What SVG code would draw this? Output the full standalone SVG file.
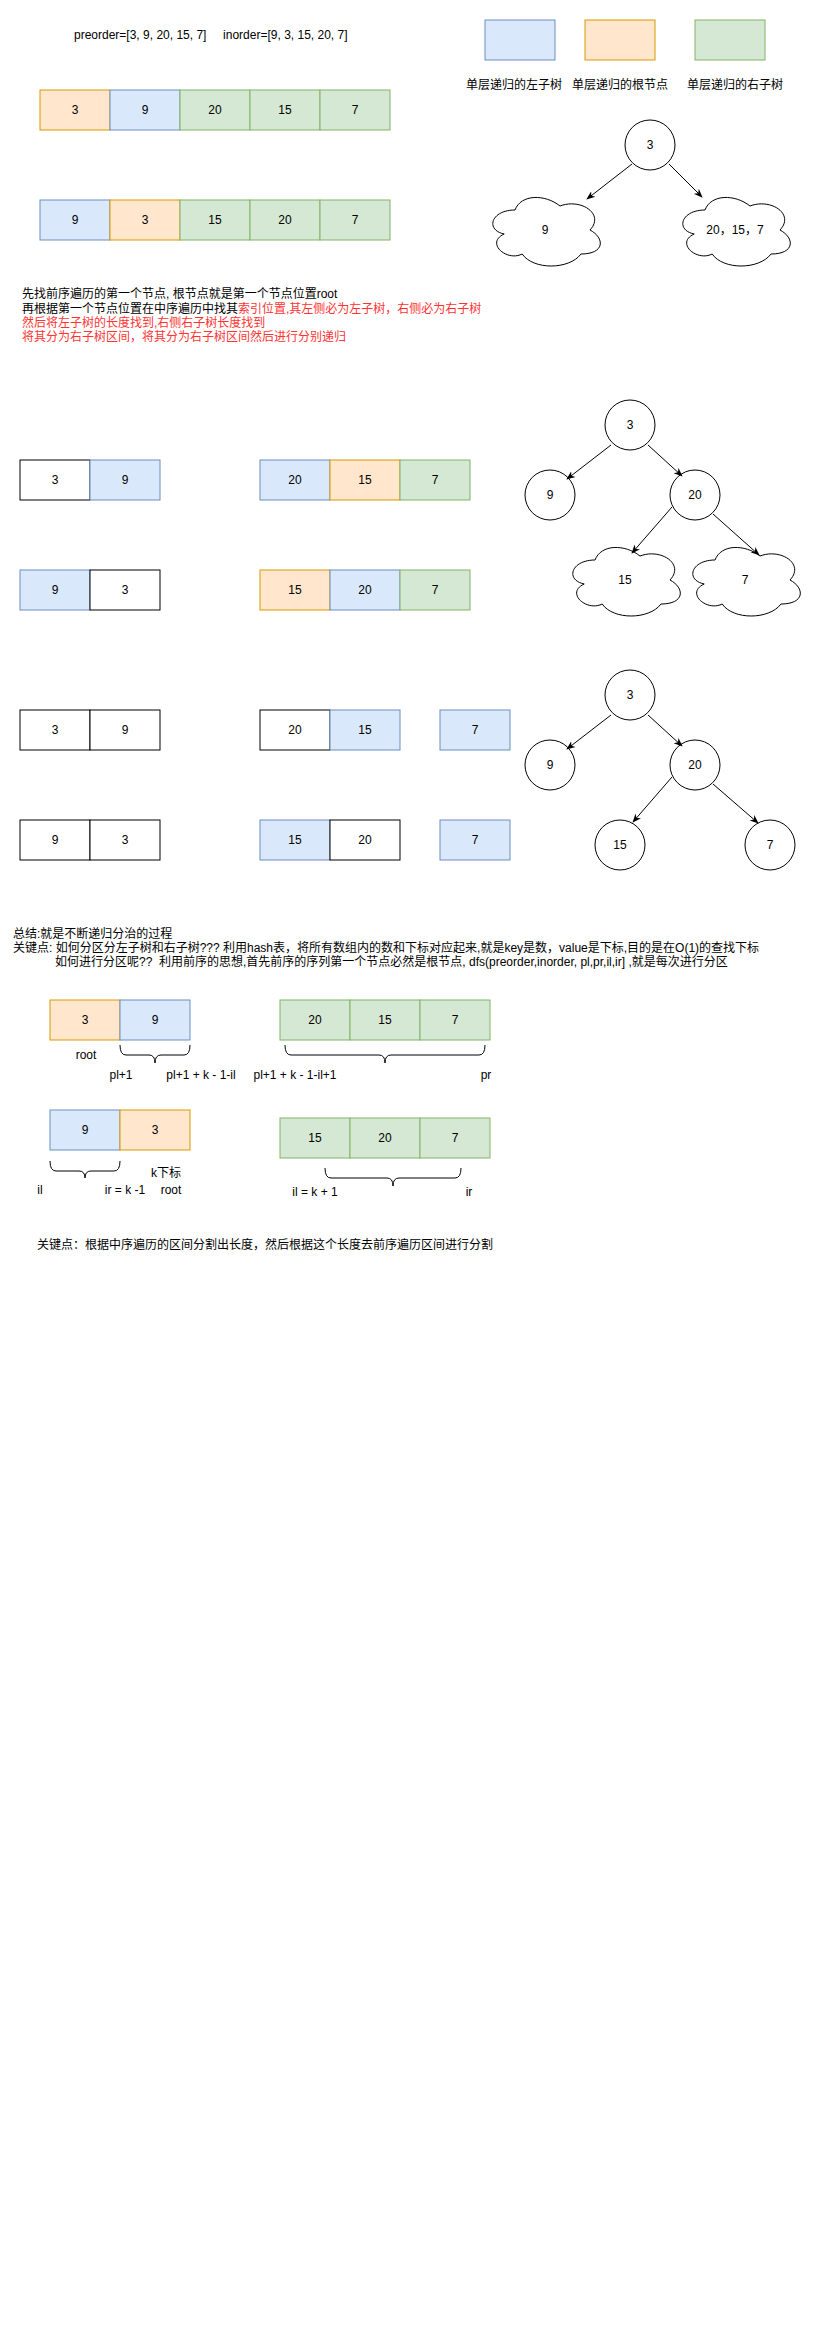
<svg xmlns="http://www.w3.org/2000/svg" width="827" height="2338" viewBox="0 0 827 2338">
<style>
text{font-family:"Liberation Sans","Noto Sans CJK SC",sans-serif;font-size:12px;fill:#000}
.c{text-anchor:middle}
.red{fill:#ff3333}
.b{fill:#dae8fc;stroke:#6c8ebf;stroke-width:1}
.o{fill:#ffe6cc;stroke:#d79b00;stroke-width:1}
.g{fill:#d5e8d4;stroke:#82b366;stroke-width:1}
.w{fill:#ffffff;stroke:#000000;stroke-width:1}
.n{fill:#ffffff;stroke:#000000;stroke-width:1}
.e{fill:none;stroke:#000000;stroke-width:1}
.br{fill:none;stroke:#000000;stroke-width:1}
</style>
<defs>
<marker id="arr" viewBox="0 0 10 10" refX="9" refY="5" markerWidth="9" markerHeight="9" orient="auto" markerUnits="userSpaceOnUse">
<path d="M0,1 L10,5 L0,9 L3,5 z" fill="#000"/>
</marker>
<path id="cloud" d="M30,20 C6,20 0,40 19.2,44 C0,52.8 21.6,72 37.2,64 C48,80 84,80 96,64 C120,64 120,48 105,40 C120,24 96,8 75,16 C60,4 36,4 30,20 Z"/>
</defs>
<rect width="827" height="2338" fill="#ffffff"/>

<g id="title"><text x="74" y="39" xml:space="preserve">preorder=[3, 9, 20, 15, 7]     inorder=[9, 3, 15, 20, 7]</text></g>

<g id="legend">
<rect class="b" x="485" y="20" width="70" height="40"/>
<rect class="o" x="585" y="20" width="70" height="40"/>
<rect class="g" x="695" y="20" width="70" height="40"/>
<text class="c" x="514" y="89">单层递归的左子树</text>
<text class="c" x="620" y="89">单层递归的根节点</text>
<text class="c" x="735" y="89">单层递归的右子树</text>
</g>

<g id="pre-array-1">
<rect class="o" x="40" y="90" width="70" height="40"/><text class="c" x="75" y="114">3</text>
<rect class="b" x="110" y="90" width="70" height="40"/><text class="c" x="145" y="114">9</text>
<rect class="g" x="180" y="90" width="70" height="40"/><text class="c" x="215" y="114">20</text>
<rect class="g" x="250" y="90" width="70" height="40"/><text class="c" x="285" y="114">15</text>
<rect class="g" x="320" y="90" width="70" height="40"/><text class="c" x="355" y="114">7</text>
</g>
<g id="in-array-1">
<rect class="b" x="40" y="200" width="70" height="40"/><text class="c" x="75" y="224">9</text>
<rect class="o" x="110" y="200" width="70" height="40"/><text class="c" x="145" y="224">3</text>
<rect class="g" x="180" y="200" width="70" height="40"/><text class="c" x="215" y="224">15</text>
<rect class="g" x="250" y="200" width="70" height="40"/><text class="c" x="285" y="224">20</text>
<rect class="g" x="320" y="200" width="70" height="40"/><text class="c" x="355" y="224">7</text>
</g>

<g id="explain">
<text x="22" y="298">先找前序遍历的第一个节点, 根节点就是第一个节点位置root</text>
<text x="22" y="313">再根据第一个节点位置在中序遍历中找其<tspan class="red">索引位置,其左侧必为左子树，右侧必为右子树</tspan></text>
<text class="red" x="22" y="327">然后将左子树的长度找到,右侧右子树长度找到</text>
<text class="red" x="22" y="341">将其分为右子树区间，将其分为右子树区间然后进行分别递归</text>
</g>

<g id="tree0-root"><circle class="n" cx="650" cy="145" r="25"/><text class="c" x="650" y="149">3</text></g>
<g id="tree0-left"><use href="#cloud" x="485" y="190" class="n"/><text class="c" x="545" y="234">9</text></g>
<g id="tree0-right"><use href="#cloud" x="675" y="190" class="n"/><text class="c" x="735" y="234">20，15，7</text></g>

<g id="rowA">
<rect class="w" x="20" y="460" width="70" height="40"/><text class="c" x="55" y="484">3</text>
<rect class="b" x="90" y="460" width="70" height="40"/><text class="c" x="125" y="484">9</text>
<rect class="b" x="260" y="460" width="70" height="40"/><text class="c" x="295" y="484">20</text>
<rect class="o" x="330" y="460" width="70" height="40"/><text class="c" x="365" y="484">15</text>
<rect class="g" x="400" y="460" width="70" height="40"/><text class="c" x="435" y="484">7</text>
</g>
<g id="rowB">
<rect class="b" x="20" y="570" width="70" height="40"/><text class="c" x="55" y="594">9</text>
<rect class="w" x="90" y="570" width="70" height="40"/><text class="c" x="125" y="594">3</text>
<rect class="o" x="260" y="570" width="70" height="40"/><text class="c" x="295" y="594">15</text>
<rect class="b" x="330" y="570" width="70" height="40"/><text class="c" x="365" y="594">20</text>
<rect class="g" x="400" y="570" width="70" height="40"/><text class="c" x="435" y="594">7</text>
</g>
<g id="rowC">
<rect class="w" x="20" y="710" width="70" height="40"/><text class="c" x="55" y="734">3</text>
<rect class="w" x="90" y="710" width="70" height="40"/><text class="c" x="125" y="734">9</text>
<rect class="w" x="260" y="710" width="70" height="40"/><text class="c" x="295" y="734">20</text>
<rect class="b" x="330" y="710" width="70" height="40"/><text class="c" x="365" y="734">15</text>
<rect class="b" x="440" y="710" width="70" height="40"/><text class="c" x="475" y="734">7</text>
</g>
<g id="rowD">
<rect class="w" x="20" y="820" width="70" height="40"/><text class="c" x="55" y="844">9</text>
<rect class="w" x="90" y="820" width="70" height="40"/><text class="c" x="125" y="844">3</text>
<rect class="b" x="260" y="820" width="70" height="40"/><text class="c" x="295" y="844">15</text>
<rect class="w" x="330" y="820" width="70" height="40"/><text class="c" x="365" y="844">20</text>
<rect class="b" x="440" y="820" width="70" height="40"/><text class="c" x="475" y="844">7</text>
</g>

<g id="tree1-3"><circle class="n" cx="630" cy="425" r="25"/><text class="c" x="630" y="429">3</text></g>
<g id="tree1-9"><circle class="n" cx="550" cy="495" r="25"/><text class="c" x="550" y="499">9</text></g>
<g id="tree1-20"><circle class="n" cx="695" cy="495" r="25"/><text class="c" x="695" y="499">20</text></g>
<g id="tree1-15"><use href="#cloud" x="565" y="540" class="n"/><text class="c" x="625" y="584">15</text></g>
<g id="tree1-7"><use href="#cloud" x="685" y="540" class="n"/><text class="c" x="745" y="584">7</text></g>

<g id="tree2-3"><circle class="n" cx="630" cy="695" r="25"/><text class="c" x="630" y="699">3</text></g>
<g id="tree2-9"><circle class="n" cx="550" cy="765" r="25"/><text class="c" x="550" y="769">9</text></g>
<g id="tree2-20"><circle class="n" cx="695" cy="765" r="25"/><text class="c" x="695" y="769">20</text></g>
<g id="tree2-15"><circle class="n" cx="620" cy="845" r="25"/><text class="c" x="620" y="849">15</text></g>
<g id="tree2-7"><circle class="n" cx="770" cy="845" r="25"/><text class="c" x="770" y="849">7</text></g>

<g id="connectors">
<line class="e" x1="632" y1="164" x2="587" y2="199" marker-end="url(#arr)"/>
<line class="e" x1="669" y1="164" x2="702" y2="197" marker-end="url(#arr)"/>
<line class="e" x1="611" y1="445" x2="567" y2="479" marker-end="url(#arr)"/>
<line class="e" x1="648" y1="445" x2="682" y2="476" marker-end="url(#arr)"/>
<line class="e" x1="672" y1="507" x2="632" y2="553" marker-end="url(#arr)"/>
<line class="e" x1="713" y1="514" x2="759" y2="555" marker-end="url(#arr)"/>
<line class="e" x1="611" y1="715" x2="567" y2="749" marker-end="url(#arr)"/>
<line class="e" x1="648" y1="715" x2="682" y2="746" marker-end="url(#arr)"/>
<line class="e" x1="672" y1="777" x2="633" y2="822" marker-end="url(#arr)"/>
<line class="e" x1="713" y1="784" x2="758" y2="823" marker-end="url(#arr)"/>
</g>

<g id="summary">
<text x="13" y="938">总结:就是不断递归分治的过程</text>
<text x="13" y="952">关键点: 如何分区分左子树和右子树??? 利用hash表，将所有数组内的数和下标对应起来,就是key是数，value是下标,目的是在O(1)的查找下标</text>
<text x="55" y="966" xml:space="preserve">如何进行分区呢??  利用前序的思想,首先前序的序列第一个节点必然是根节点, dfs(preorder,inorder, pl,pr,il,ir] ,就是每次进行分区</text>
</g>

<g id="pre-split">
<rect class="o" x="50" y="1000" width="70" height="40"/><text class="c" x="85" y="1024">3</text>
<rect class="b" x="120" y="1000" width="70" height="40"/><text class="c" x="155" y="1024">9</text>
<rect class="g" x="280" y="1000" width="70" height="40"/><text class="c" x="315" y="1024">20</text>
<rect class="g" x="350" y="1000" width="70" height="40"/><text class="c" x="385" y="1024">15</text>
<rect class="g" x="420" y="1000" width="70" height="40"/><text class="c" x="455" y="1024">7</text>
<path class="br" d="M120,1045 Q120,1055 126,1055 L149,1055 Q155,1055 155,1063 Q155,1055 161,1055 L184,1055 Q190,1055 190,1045"/>
<path class="br" d="M285,1045 Q285,1055 291,1055 L379,1055 Q385,1055 385,1063 Q385,1055 391,1055 L479,1055 Q485,1055 485,1045"/>
<text class="c" x="86" y="1059">root</text>
<text class="c" x="121" y="1079">pl+1</text>
<text class="c" x="201" y="1079">pl+1 + k - 1-il</text>
<text class="c" x="295" y="1079">pl+1 + k - 1-il+1</text>
<text class="c" x="486" y="1079">pr</text>
</g>

<g id="in-split">
<rect class="b" x="50" y="1110" width="70" height="40"/><text class="c" x="85" y="1134">9</text>
<rect class="o" x="120" y="1110" width="70" height="40"/><text class="c" x="155" y="1134">3</text>
<rect class="g" x="280" y="1118" width="70" height="40"/><text class="c" x="315" y="1142">15</text>
<rect class="g" x="350" y="1118" width="70" height="40"/><text class="c" x="385" y="1142">20</text>
<rect class="g" x="420" y="1118" width="70" height="40"/><text class="c" x="455" y="1142">7</text>
<path class="br" d="M50,1161 Q50,1171 56,1171 L79,1171 Q85,1171 85,1178 Q85,1171 91,1171 L114,1171 Q120,1171 120,1161"/>
<path class="br" d="M325,1168 Q325,1178 331,1178 L387,1178 Q393,1178 393,1186 Q393,1178 399,1178 L455,1178 Q461,1178 461,1168" stroke-width="1.3"/>
<text class="c" x="166" y="1177">k下标</text>
<text class="c" x="40" y="1194">il</text>
<text class="c" x="125" y="1194">ir = k -1</text>
<text class="c" x="171" y="1194">root</text>
<text class="c" x="315" y="1196">il = k + 1</text>
<text class="c" x="469" y="1196">ir</text>
</g>

<g id="keypoint"><text x="37" y="1249">关键点：根据中序遍历的区间分割出长度，然后根据这个长度去前序遍历区间进行分割</text></g>
</svg>
